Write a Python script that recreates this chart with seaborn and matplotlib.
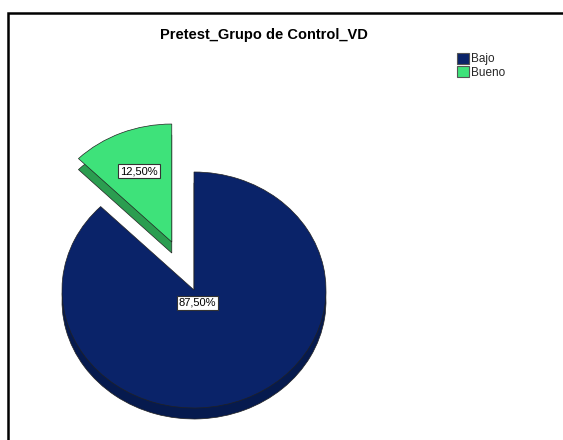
import matplotlib
matplotlib.use("Agg")
import matplotlib.pyplot as plt
import seaborn as sns
from matplotlib.patches import Rectangle, Patch

sns.set_theme(style="white")
plt.rcParams['font.family'] = ['Liberation Sans', 'DejaVu Sans']

# ---- data ----
categories = ["Bajo", "Bueno"]
percentages = [87.5, 12.5]
title = "Pretest_Grupo de Control_VD"

# ---- style ----
top_colors = ["#0a2369", "#3ee27a"]
side_colors = ["#061a4e", "#2b9d50"]
explode = [0.0, 0.44]

W, H = 563, 440
fig = plt.figure(figsize=(W / 100, H / 100), dpi=100)

# pixel geometry of pie
cx, cy = 194, 290   # center (pixels from top-left)
rx, ry = 132, 118   # radii in pixels
depth = 11

ax = fig.add_axes([0, 0, 1, 1])
fmt = lambda p: f"{p:.2f}%".replace(".", ",")

# side (3D depth) layer
ax.pie(percentages, colors=side_colors, startangle=90, counterclock=False,
       explode=explode, center=(0, -depth / ry), radius=1,
       wedgeprops=dict(edgecolor="#222222", linewidth=0.5))
# top layer
wedges, _, autotexts = ax.pie(percentages, colors=top_colors, startangle=90,
                              counterclock=False, explode=explode,
                              autopct=fmt, pctdistance=0.65,
                              wedgeprops=dict(edgecolor="#222222", linewidth=0.5),
                              textprops=dict(fontsize=8, color="black"))
ax.set_aspect("auto")
ax.set_xlim(-cx / rx, (W - cx) / rx)
ax.set_ylim(-(H - cy) / ry, cy / ry)
ax.axis("off")

for t in autotexts:
    t.set_bbox(dict(facecolor="white", edgecolor="#333333", linewidth=0.8,
                    boxstyle="square,pad=0.18"))
# main wedge label sits near the pie center
autotexts[0].set_position((3.5 / rx, -12.5 / ry))

# title
fig.text(263.5 / W, 1 - 35 / H, title, ha="center", va="center",
         fontsize=10.5, fontweight="bold", color="black")

# legend
handles = [Patch(facecolor=c, edgecolor="#555555", linewidth=0.8) for c in top_colors]
leg = fig.legend(handles, categories, loc="upper left",
                 bbox_to_anchor=(451 / W, 1 - 47 / H), frameon=False,
                 fontsize=8.5, handlelength=1.0, handleheight=1.05,
                 handletextpad=0.2, labelspacing=0.08, borderpad=0)

# outer frame
fig.patches.append(Rectangle((8 / W, -0.05), 1.2, (H - 13) / H + 0.05,
                             transform=fig.transFigure, fill=False,
                             edgecolor="black", linewidth=1.8))

fig.savefig("out.png", dpi=100, facecolor="white")
